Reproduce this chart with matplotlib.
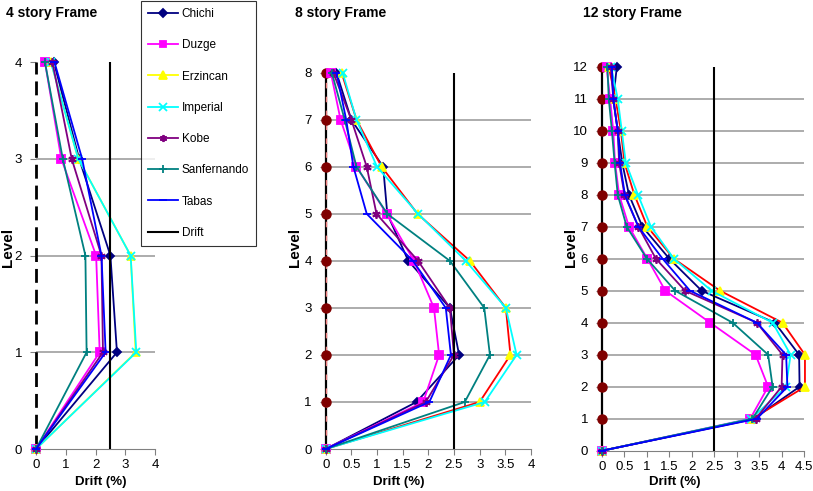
import matplotlib
matplotlib.use('Agg')
import matplotlib.pyplot as plt
import numpy as np

plt.rcParams['font.family'] = ['Liberation Sans', 'DejaVu Sans']

names = ['Chichi', 'Duzge', 'Erzincan', 'Imperial', 'Kobe', 'Sanfernando', 'Tabas']

# 4 story frame, levels 0..4
levels4 = [0, 1, 2, 3, 4]
chichi4 = [0, 2.72, 2.5, 1.45, 0.6]
duzge4 = [0, 2.14, 2.02, 0.85, 0.3]
erzincan4 = [0, 3.35, 3.18, 1.42, 0.5]
imperial4 = [0, 3.37, 3.18, 1.42, 0.5]
kobe4 = [0, 2.25, 2.2, 1.2, 0.55]
sanfernando4 = [0, 1.7, 1.66, 0.9, 0.3]
tabas4 = [0, 2.34, 2.2, 1.55, 0.62]

# 8 story frame, levels 0..8
levels8 = [0, 1, 2, 3, 4, 5, 6, 7, 8]
chichi8 = [0, 1.77, 2.6, 2.42, 1.61, 1.2, 1.12, 0.5, 0.21]
duzge8 = [0, 1.9, 2.21, 2.11, 1.72, 1.19, 0.6, 0.29, 0.1]
erzincan8 = [0, 3.0, 3.6, 3.51, 2.81, 1.79, 1.09, 0.6, 0.31]
imperial8 = [0, 3.1, 3.72, 3.51, 2.73, 1.8, 1.0, 0.6, 0.33]
kobe8 = [0, 1.95, 2.5, 2.42, 1.8, 0.99, 0.8, 0.5, 0.15]
sanfernando8 = [0, 2.71, 3.2, 3.09, 2.42, 1.2, 0.6, 0.37, 0.12]
tabas8 = [0, 2.02, 2.44, 2.34, 1.7, 0.8, 0.54, 0.4, 0.21]

# 12 story frame, levels 0..12
levels12 = [0, 1, 2, 3, 4, 5, 6, 7, 8, 9, 10, 11, 12]
chichi12 = [0, 3.38, 4.4, 4.39, 3.85, 2.22, 1.5, 0.9, 0.6, 0.45, 0.35, 0.25, 0.33]
duzge12 = [0, 3.3, 3.7, 3.42, 2.41, 1.41, 1.01, 0.6, 0.38, 0.29, 0.25, 0.18, 0.1]
erzincan12 = [0, 3.35, 4.52, 4.52, 4.02, 2.63, 1.6, 1.01, 0.72, 0.5, 0.42, 0.3, 0.15]
imperial12 = [0, 3.32, 4.1, 4.2, 3.8, 2.44, 1.6, 1.09, 0.8, 0.53, 0.44, 0.35, 0.2]
kobe12 = [0, 3.42, 4.0, 4.02, 3.45, 1.85, 1.2, 0.81, 0.5, 0.38, 0.35, 0.25, 0.2]
sanfernando12 = [0, 3.35, 3.8, 3.7, 2.91, 1.63, 1.0, 0.55, 0.35, 0.28, 0.22, 0.15, 0.12]
tabas12 = [0, 3.45, 4.13, 4.1, 3.45, 1.96, 1.35, 0.81, 0.51, 0.4, 0.35, 0.25, 0.22]

drift_limit = 2.5

colors = ['#000080', '#FF00FF', '#FFFF00', '#00FFFF', '#800080', '#008080', '#0000FF']
markers = ['D', 's', '^', 'x', (6, 2, 0), '+', '_']
msizes = [4.5, 5.5, 6, 6, 6, 6, 6]

fig = plt.figure(figsize=(8.13, 4.91), dpi=100)

ax1 = fig.add_axes([0.0443, 0.0855, 0.1464, 0.788])
ax2 = fig.add_axes([0.4006, 0.0855, 0.2525, 0.7664])
ax3 = fig.add_axes([0.7405, 0.082, 0.2485, 0.782])

panels = [
    (ax1, levels4, [chichi4, duzge4, erzincan4, imperial4, kobe4, sanfernando4, tabas4], 4, np.arange(0, 4.1, 1), '4 story Frame', 6),
    (ax2, levels8, [chichi8, duzge8, erzincan8, imperial8, kobe8, sanfernando8, tabas8], 4, np.arange(0, 4.1, 0.5), '8 story Frame', 295),
    (ax3, levels12, [chichi12, duzge12, erzincan12, imperial12, kobe12, sanfernando12, tabas12], 4.5, np.arange(0, 4.6, 0.5), '12 story Frame', 583),
]

for i, (ax, lev, series, xmax, xt, title, tx) in enumerate(panels):
    top = lev[-1]
    ax.set_xlim(0, xmax)
    ax.set_ylim(0, top)
    # grid lines at inner levels only
    for L in lev[1:-1]:
        ax.plot([0, xmax], [L, L], color='#a6a6a6', lw=1.3, zorder=1)

    # left axis line
    if i == 0:
        ax.plot([0, 0], [0, top], color='black', lw=2, ls=(0, (5, 2.5)), zorder=2, clip_on=False)
    else:
        ax.plot([0, 0], [0, top], color='black', lw=1.6, zorder=2, clip_on=False)
        if i == 1:
            ax.plot([0, 0], [0, top], color='#f08080', lw=1, ls=(0, (4, 6)), zorder=2, clip_on=False)
        ax.plot(np.zeros(len(lev) - 1), lev[1:], 'o', color='#800000', ms=6.5, zorder=3, clip_on=False)

    for k, (name, xs) in enumerate(zip(names, series)):
        lc = colors[k]
        if name == 'Erzincan' and i > 0:
            lc = 'red'
        ax.plot(xs, lev, color=lc, lw=1.3, marker=markers[k], ms=msizes[k],
                mfc=colors[k], mec=colors[k], mew=1.3, label=name, zorder=4, clip_on=False)

    ax.plot([drift_limit, drift_limit], [0, top], color='black', lw=1.5, label='Drift', zorder=5)

    for s in ['top', 'right', 'left']:
        ax.spines[s].set_visible(False)
    ax.spines['bottom'].set_color('#808080')
    ax.set_xticks(xt)
    ax.set_xticklabels(['%g' % v for v in xt])
    ax.set_yticks(lev)
    ax.tick_params(axis='x', colors='#808080', labelcolor='black', labelsize=9.5, length=4)
    ax.tick_params(axis='y', colors='#808080', labelcolor='black', labelsize=9.5, length=4, pad=6)

    fig.text(tx / 813, 1 - 13 / 491, title, fontsize=10, fontweight='bold', ha='left', va='center')

# axis labels
for cx in [101, 399, 675]:
    fig.text(cx / 813, 1 - 482 / 491, 'Drift (%)', fontsize=9.5, fontweight='bold', ha='center', va='center')
for cx in [8, 295, 571]:
    fig.text(cx / 813, 1 - 247 / 491, 'Level', fontsize=11, fontweight='bold', rotation=90, ha='center', va='center')

handles, labels = ax1.get_legend_handles_labels()
leg = fig.legend(handles, labels, loc='upper left', bbox_to_anchor=(141 / 813, 1 - 1 / 491),
                 fontsize=8.5, labelspacing=1.63, handlelength=2.5, handletextpad=0.35,
                 borderpad=0.6, borderaxespad=0, markerscale=0.85,
                 frameon=True, fancybox=False, edgecolor='black')
leg.get_frame().set_linewidth(0.8)

fig.savefig('out.png', dpi=100)
